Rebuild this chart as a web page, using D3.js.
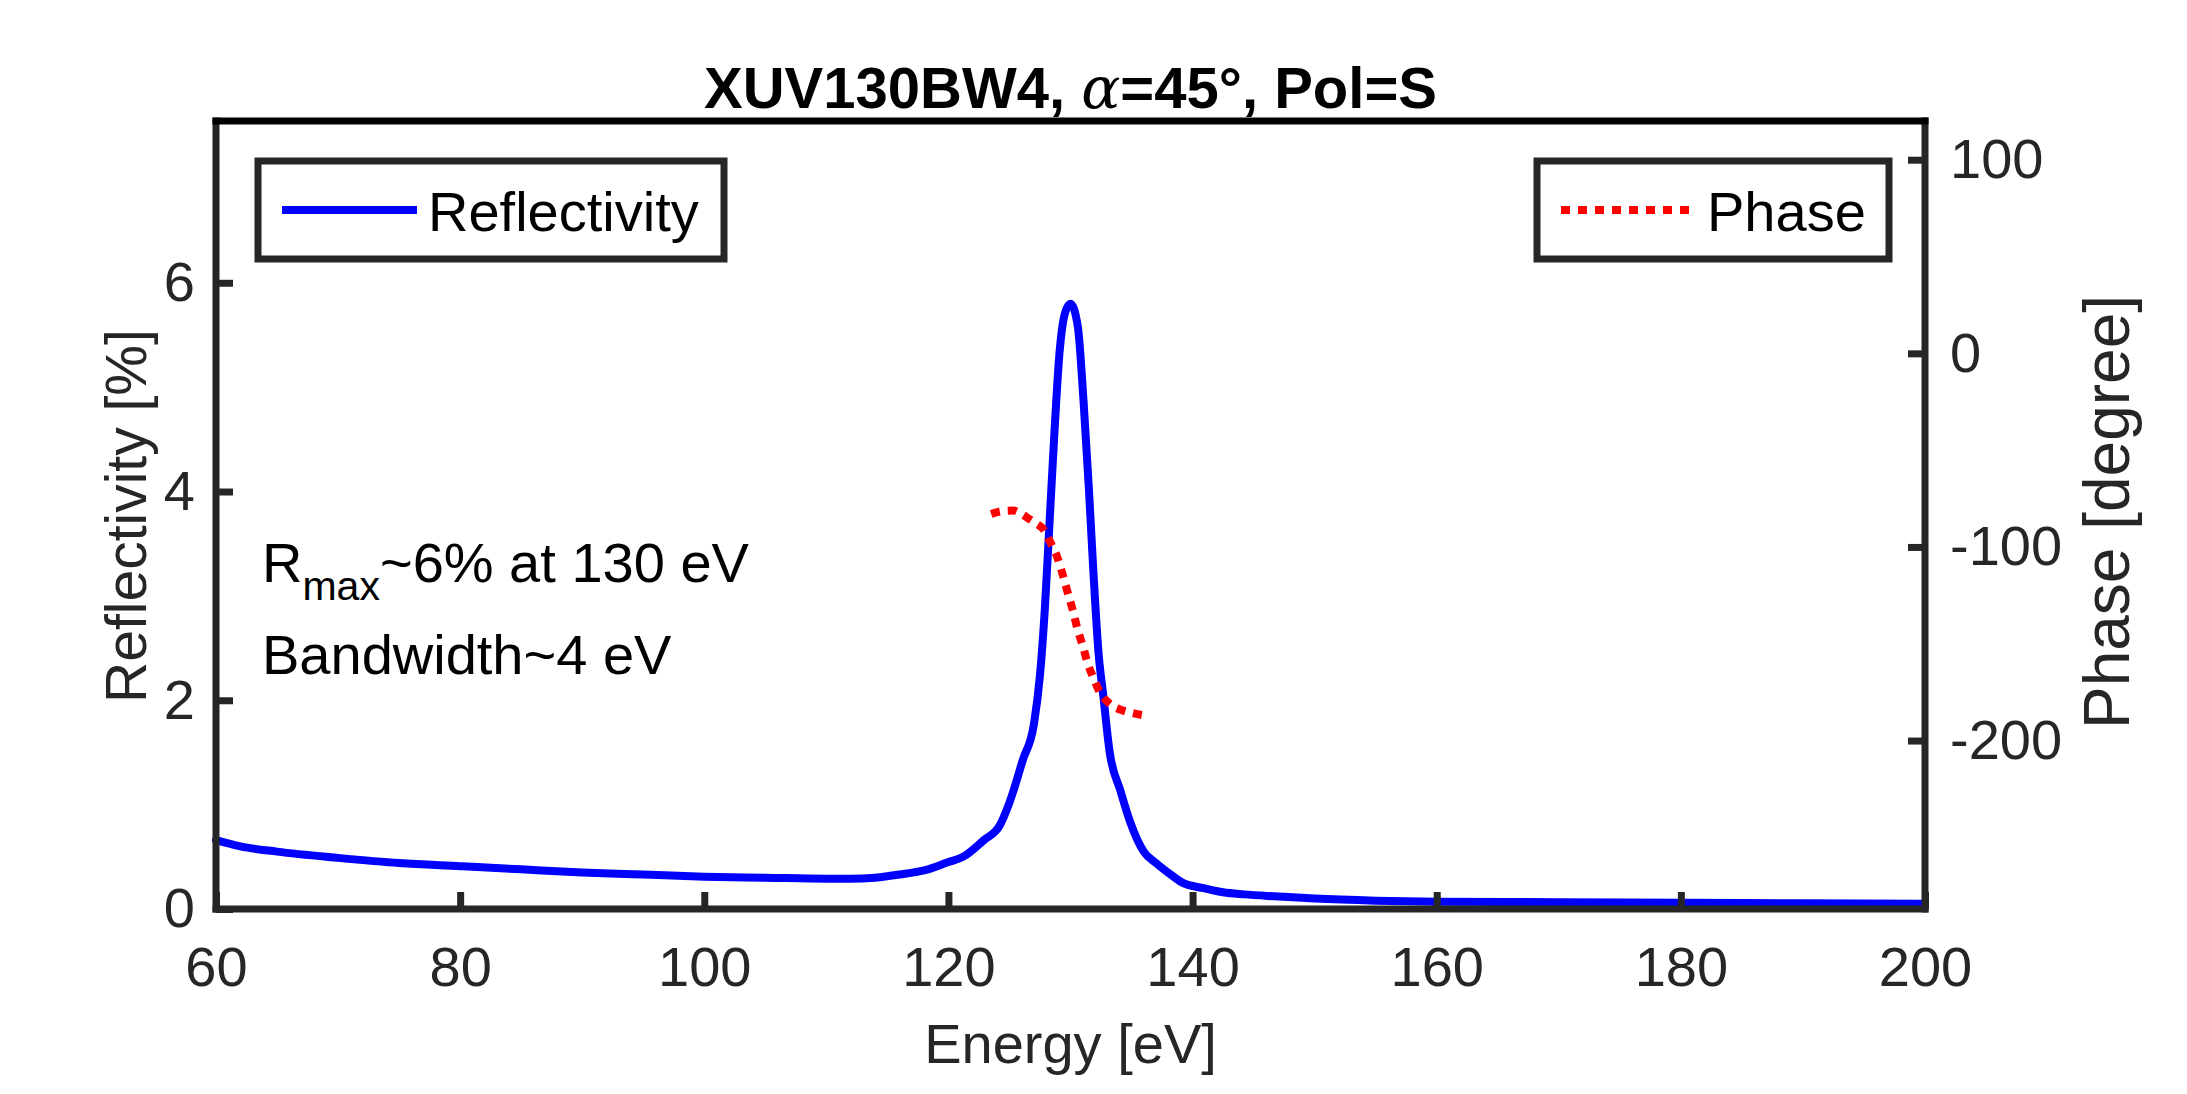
<!DOCTYPE html>
<html>
<head>
<meta charset="utf-8">
<script src="https://cdn.jsdelivr.net/npm/d3@7"></script>
<style>
  html, body { margin: 0; padding: 0; background: #fff; }
  svg { display: block; }
  text { font-family: "Liberation Sans", Arial, Helvetica, sans-serif; }
</style>
</head>
<body>
<svg id="chart" width="2187" height="1094"></svg>
<script>
// ---------------- data ----------------
const energy = [60,62,65,70,75,80,85,90,95,100,105,110,112,114,116,118,120,121.2,122.9,124.2,125,126.1,127,127.5,127.9,128.3,128.7,129.1,129.55,130,130.6,131.05,131.5,131.9,132.3,132.7,133.2,134.1,134.9,136,137,138.2,139.2,140.9,142.5,144.2,147,150,155,160,170,180,190,200];
const reflectivity = [0.66,0.60,0.55,0.49,0.44,0.41,0.38,0.35,0.33,0.31,0.30,0.29,0.29,0.30,0.33,0.37,0.45,0.50,0.66,0.80,1.02,1.43,1.77,2.24,2.88,3.74,4.60,5.33,5.71,5.80,5.58,4.90,4.04,3.18,2.45,2.03,1.51,1.13,0.83,0.55,0.44,0.33,0.25,0.20,0.16,0.14,0.12,0.10,0.08,0.07,0.065,0.06,0.055,0.05];
const phaseEnergy = [123.5,124.4,125.3,126.0,126.6,127.2,127.8,128.3,128.9,129.3,129.7,130.2,130.6,131.05,131.4,131.9,132.4,133.2,134.3,135.2,136.0];
const phase = [-83,-81.5,-81.2,-83,-85.5,-88,-91,-97,-105,-113,-122,-133,-143,-152,-160,-168,-175,-181,-184.5,-186,-187];

const xTicks = [60,80,100,120,140,160,180,200];
const yLeftTicks = [0,2,4,6];
const yRightTicks = [-200,-100,0,100];

const titleText = "XUV130BW4, ";
const xLabel = "Energy [eV]";
const yLeftLabel = "Reflectivity [%]";
const yRightLabel = "Phase [degree]";
const legendLabels = ["Reflectivity", "Phase"];

// ---------------- layout ----------------
const W = 2187, H = 1094;
const L = 216, R = 1925, T = 121, B = 909;
const axisColor = "#262626";
const fontSize = 56;

const svg = d3.select("#chart");

const x = d3.scaleLinear().domain([60, 200]).range([L, R]);
const yL = d3.scaleLinear().domain([0, 7.55]).range([B, T]);
const yR = d3.scaleLinear().domain([-287, 120]).range([B, T]);

svg.append("rect").attr("x", 0).attr("y", 0).attr("width", W).attr("height", H).attr("fill", "#fff");

// ---------------- curves ----------------
const reflData = energy.map((e, i) => [e, reflectivity[i]]);
const phaseData = phaseEnergy.map((e, i) => [e, phase[i]]);

svg.append("path")
  .datum(reflData)
  .attr("fill", "none")
  .attr("stroke", "#0000ff")
  .attr("stroke-width", 8)
  .attr("stroke-linejoin", "round")
  .attr("stroke-linecap", "round")
  .attr("d", d3.line().x(d => x(d[0])).y(d => yL(d[1])).curve(d3.curveMonotoneX));

svg.append("path")
  .datum(phaseData)
  .attr("fill", "none")
  .attr("stroke", "#ff0000")
  .attr("stroke-width", 8)
  .attr("stroke-dasharray", "9,8")
  .attr("d", d3.line().x(d => x(d[0])).y(d => yR(d[1])).curve(d3.curveMonotoneX));

// ---------------- axes ----------------
const plainFmt = d => String(d);
function styleAxis(g) {
  g.select(".domain").remove();
  g.selectAll(".tick line").attr("stroke", axisColor).attr("stroke-width", 7);
  g.selectAll(".tick text")
    .attr("fill", axisColor)
    .attr("font-size", fontSize)
    .attr("font-family", "Liberation Sans, Arial, sans-serif");
}

svg.append("g")
  .attr("transform", `translate(0,${B})`)
  .call(d3.axisBottom(x).tickValues(xTicks).tickFormat(plainFmt).tickSize(-17).tickPadding(37))
  .call(styleAxis);

svg.append("g")
  .attr("transform", `translate(${L},0)`)
  .call(d3.axisLeft(yL).tickValues(yLeftTicks).tickFormat(plainFmt).tickSize(-17).tickPadding(21))
  .call(styleAxis);

svg.append("g")
  .attr("transform", `translate(${R},0)`)
  .call(d3.axisRight(yR).tickValues(yRightTicks).tickFormat(plainFmt).tickSize(-17).tickPadding(25))
  .call(styleAxis);

// box lines
svg.append("line").attr("x1", L).attr("x2", R).attr("y1", B).attr("y2", B)
  .attr("stroke", axisColor).attr("stroke-width", 7).attr("stroke-linecap", "square");
svg.append("line").attr("x1", L).attr("x2", L).attr("y1", T).attr("y2", B)
  .attr("stroke", axisColor).attr("stroke-width", 7).attr("stroke-linecap", "square");
svg.append("line").attr("x1", R).attr("x2", R).attr("y1", T).attr("y2", B)
  .attr("stroke", axisColor).attr("stroke-width", 7).attr("stroke-linecap", "square");
svg.append("line").attr("x1", L).attr("x2", R).attr("y1", T).attr("y2", T)
  .attr("stroke", "#000").attr("stroke-width", 7).attr("stroke-linecap", "square");

// ---------------- labels ----------------
svg.append("text")
  .attr("x", (L + R) / 2).attr("y", 1063)
  .attr("text-anchor", "middle")
  .attr("font-size", fontSize).attr("fill", axisColor)
  .text(xLabel);

svg.append("text")
  .attr("transform", `translate(146,${(T + B) / 2 + 1}) rotate(-90)`)
  .attr("text-anchor", "middle")
  .attr("font-size", 57).attr("fill", axisColor)
  .text(yLeftLabel);

svg.append("text")
  .attr("transform", `translate(2129,${(T + B) / 2 - 3}) rotate(-90)`)
  .attr("text-anchor", "middle")
  .attr("font-size", 64).attr("fill", axisColor)
  .text(yRightLabel);

// title
const title = svg.append("text")
  .attr("x", (L + R) / 2).attr("y", 108)
  .attr("text-anchor", "middle")
  .attr("font-size", 58).attr("font-weight", "bold").attr("fill", "#000");
title.append("tspan").text(titleText);
title.append("tspan")
  .attr("font-family", "DejaVu Serif, Liberation Serif, serif")
  .attr("font-style", "italic").attr("font-weight", "normal")
  .text("\u03b1");
title.append("tspan").text("=45\u00b0, Pol=S");

// annotation
const ann1 = svg.append("text").attr("x", 262).attr("y", 582).attr("font-size", fontSize).attr("fill", "#000");
ann1.append("tspan").text("R");
ann1.append("tspan").attr("font-size", 41).attr("dy", 18).text("max");
ann1.append("tspan").attr("dy", -18).text("~6% at 130 eV");
svg.append("text").attr("x", 262).attr("y", 674).attr("font-size", fontSize).attr("fill", "#000")
  .text("Bandwidth~4 eV");

// ---------------- legends ----------------
function legendBox(x0, x1, label, color, dash) {
  const y0 = 161, y1 = 259;
  const g = svg.append("g");
  g.append("rect").attr("x", x0).attr("y", y0).attr("width", x1 - x0).attr("height", y1 - y0)
    .attr("fill", "#fff").attr("stroke", axisColor).attr("stroke-width", 7);
  const ly = (y0 + y1) / 2;
  const ln = g.append("line").attr("x1", x0 + 24).attr("x2", x0 + 159).attr("y1", ly).attr("y2", ly)
    .attr("stroke", color).attr("stroke-width", 8);
  if (dash) ln.attr("stroke-dasharray", dash);
  g.append("text").attr("x", x0 + 170).attr("y", ly + 21)
    .attr("font-size", fontSize).attr("fill", "#000").text(label);
}
legendBox(258, 724, legendLabels[0], "#0000ff", null);
legendBox(1537, 1889, legendLabels[1], "#ff0000", "9,8");
</script>
</body>
</html>
